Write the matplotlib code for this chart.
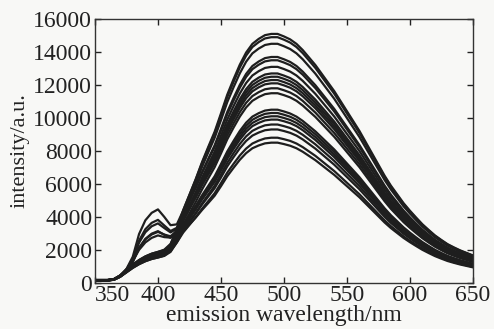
import numpy as np
import matplotlib
matplotlib.use("Agg")
import matplotlib.pyplot as plt

# wavelength grid (nm)
wavelength = list(range(350, 655, 5))

# normalized main emission band
main_band = [0, 0, 0, 0, 0, 0, 0, 0, 0, 0,            # 350-395
             0.0, 0.01, 0.04, 0.11, 0.20, 0.28, 0.36, 0.445, 0.52, 0.59,   # 400-445
             0.67, 0.75, 0.815, 0.875, 0.925, 0.96, 0.98, 0.995, 1.0, 1.0,  # 450-495
             0.99, 0.978, 0.96, 0.935, 0.905, 0.875, 0.84, 0.805, 0.77, 0.73,  # 500-545
             0.69, 0.65, 0.61, 0.565, 0.52, 0.475, 0.43, 0.39, 0.355, 0.32,  # 550-595
             0.29, 0.262, 0.235, 0.212, 0.19, 0.172, 0.155, 0.142, 0.13, 0.12,  # 600-645
             0.11]                                                  # 650

# common low-wavelength plateau (absolute intensity)
plateau = [150, 150, 150, 200, 400, 700, 1000, 1250, 1450, 1600,
           1700, 1700, 1650, 1550, 1350, 1100, 850, 600, 400, 250,
           150, 80, 40, 20, 0, 0, 0, 0, 0, 0,
           0, 0, 0, 0, 0, 0, 0, 0, 0, 0,
           0, 0, 0, 0, 0, 0, 0, 0, 0, 0,
           0, 0, 0, 0, 0, 0, 0, 0, 0, 0,
           0]

# normalized 400 nm shoulder
shoulder = [0, 0, 0, 0, 0, 0.05, 0.21, 0.62, 0.85, 0.96,
            1.0, 0.78, 0.45, 0.12, 0.0] + [0.0] * 46

# per-curve peak intensities, plateau factors and shoulder heights
peak_values = [15100, 14900, 14500, 13700, 13500, 13100, 12700, 12500, 12300, 12100,
               11800, 11500, 10500, 10300, 10100, 9900, 9600, 9300, 8800, 8500]
plateau_factor = [1.0, 1.05, 0.95, 1.0, 1.1, 0.9, 1.0, 1.05, 0.95, 1.0,
                  1.1, 0.9, 1.05, 1.0, 0.95, 1.1, 0.9, 1.0, 0.95, 1.05]
shoulder_height = [2750, 0, 2200, 1900, 0, 1600, 0, 1300, 0, 0,
                   1000, 0, 0, 0, 0, 0, 0, 0, 0, 0]

x_ticks = [350, 400, 450, 500, 550, 600, 650]
y_ticks = [0, 2000, 4000, 6000, 8000, 10000, 12000, 14000, 16000]

plt.rcParams['font.family'] = ['Liberation Serif', 'DejaVu Serif']

fig = plt.figure(figsize=(4.94, 3.29), dpi=100)
fig.patch.set_facecolor('#f8f8f6')
ax = fig.add_axes([0.1923, 0.1407, 0.957 - 0.1923, 0.942 - 0.1407])
ax.set_facecolor('#f8f8f6')

wl = np.array(wavelength, dtype=float)
S = np.array(main_band)
B = np.array(plateau)
K = np.array(shoulder)
for p, f, h in zip(peak_values, plateau_factor, shoulder_height):
    y = p * S + f * B + h * K
    ax.plot(wl, y, color='#1e1e1e', lw=1.6, solid_joinstyle='round')

ax.set_xlim(350, 650)
ax.set_ylim(0, 16000)
ax.set_xticks(x_ticks)
ax.set_yticks(y_ticks)
ax.tick_params(direction='in', length=4, width=1, top=True, right=True,
               labelsize=17, pad=2, colors='#222222')
xl = ax.get_xticklabels()
xl[0].set_horizontalalignment('left')
for s in ax.spines.values():
    s.set_linewidth(1.0)
    s.set_color('#333333')
ax.set_xlabel('emission wavelength/nm', fontsize=17, labelpad=-1, color='#222222')
ax.set_ylabel('intensity/a.u.', fontsize=16, labelpad=3, color='#222222')

fig.savefig('out.png', dpi=100, facecolor=fig.get_facecolor())
